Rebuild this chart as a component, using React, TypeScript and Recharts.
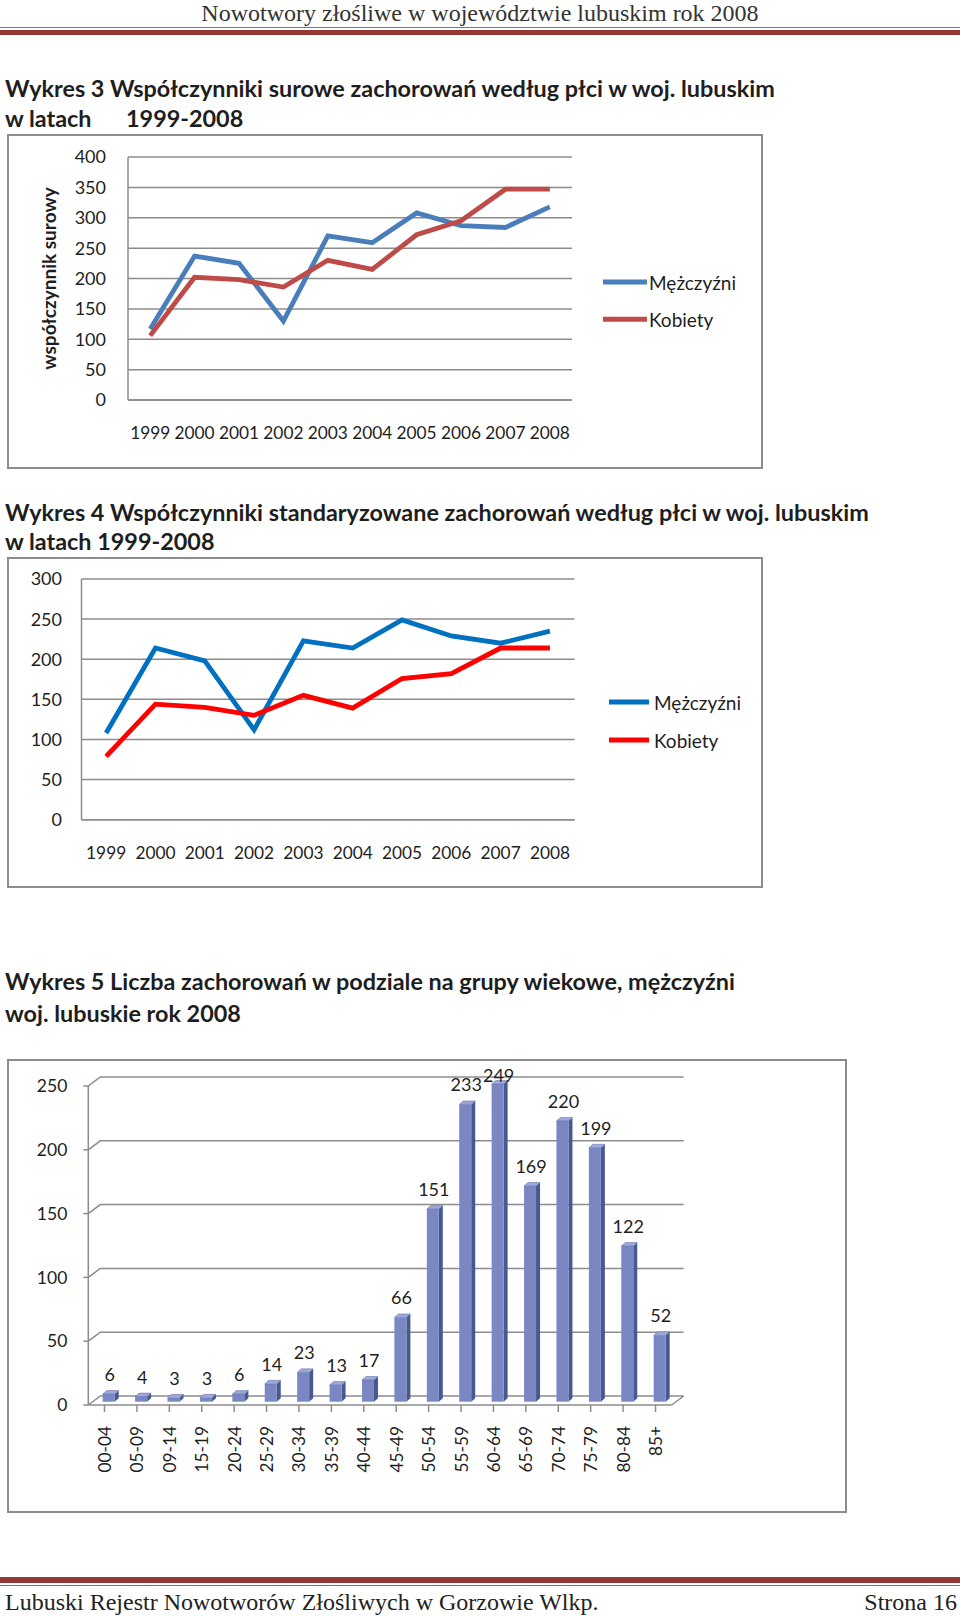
import React from 'react';
import { LineChart, Line, BarChart, Bar, XAxis, YAxis, CartesianGrid, Legend, LabelList } from 'recharts';

// ---- data ----
const YEARS = ['1999', '2000', '2001', '2002', '2003', '2004', '2005', '2006', '2007', '2008'];
const CRUDE_MEN = [117, 237, 225, 130, 270, 259, 308, 287, 284, 318];
const CRUDE_WOMEN = [106, 202, 198, 186, 230, 215, 272, 295, 347, 347];
const STD_MEN = [108, 214, 198, 112, 223, 214, 249, 229, 220, 235];
const STD_WOMEN = [79, 144, 140, 130, 155, 139, 176, 182, 214, 214];
const CRUDE_TICKS = [0, 50, 100, 150, 200, 250, 300, 350, 400];
const STD_TICKS = [0, 50, 100, 150, 200, 250, 300];

const AGE_GROUPS = ['00-04', '05-09', '09-14', '15-19', '20-24', '25-29', '30-34', '35-39', '40-44', '45-49', '50-54', '55-59', '60-64', '65-69', '70-74', '75-79', '80-84', '85+'];
const AGE_CASES = [6, 4, 3, 3, 6, 14, 23, 13, 17, 66, 151, 233, 249, 169, 220, 199, 122, 52];
const AGE_TICKS = [0, 50, 100, 150, 200, 250];

const SERIES_NAMES = ['Mężczyźni', 'Kobiety'];

const FONT = 'Lato, "Noto Sans", sans-serif';
const SERIF = '"Liberation Serif", "DejaVu Serif", serif';
const INK = '#1e1e1e';
const GRID = '#8c8c8c';
const RULE = '#943634';

const crudeData = YEARS.map((year, i) => ({ year, men: CRUDE_MEN[i], women: CRUDE_WOMEN[i] }));
const stdData = YEARS.map((year, i) => ({ year, men: STD_MEN[i], women: STD_WOMEN[i] }));
const ageData = AGE_GROUPS.map((group, i) => ({ group, cases: AGE_CASES[i] }));

interface TrendProps {
  left: number;
  top: number;
  width: number;
  height: number;
  data: { year: string; men: number; women: number }[];
  ticks: number[];
  colors: [string, string];
  margin: { top: number; right: number; bottom: number; left: number };
  pad: number;
  yGap: number;
  yFont: number;
  legend: { left: number; top: number; lineLen: number; textX: number; gap: number };
  yLabel?: string;
}

function TrendChart(p: TrendProps) {
  const renderLegend = () => (
    <svg width={170} height={90} style={{ overflow: 'visible' }}>
      {SERIES_NAMES.map((name, i) => {
        const y = 20 + i * p.legend.gap;
        return (
          <g key={name}>
            <line x1={0} x2={p.legend.lineLen} y1={y} y2={y} stroke={p.colors[i]} strokeWidth={5} />
            <text x={p.legend.textX} y={y} dominantBaseline="central" fontSize={19} fill={INK} fontFamily={FONT}>
              {name}
            </text>
          </g>
        );
      })}
    </svg>
  );

  const renderYLabel = (props: any) => {
    const vb = props.viewBox || {};
    const cx = vb.x - 20;
    const cy = vb.y + vb.height / 2;
    return (
      <text
        x={cx}
        y={cy}
        transform={`rotate(-90, ${cx}, ${cy})`}
        textAnchor="middle"
        dominantBaseline="central"
        fontSize={19}
        fontWeight={700}
        fill={INK}
        fontFamily={FONT}
      >
        {p.yLabel}
      </text>
    );
  };

  return (
    <div style={{ position: 'absolute', left: p.left, top: p.top }}>
      <LineChart width={p.width} height={p.height} data={p.data} margin={p.margin}>
        <CartesianGrid vertical={false} stroke={GRID} strokeWidth={1.5} />
        <XAxis
          dataKey="year"
          interval={0}
          padding={{ left: p.pad, right: p.pad }}
          tickLine={false}
          tickSize={0}
          tickMargin={27}
          axisLine={{ stroke: GRID, strokeWidth: 1.5 }}
          tick={{ fontSize: 17.3, fill: INK, fontFamily: FONT }}
          height={30}
        />
        <YAxis
          domain={[p.ticks[0], p.ticks[p.ticks.length - 1]]}
          ticks={p.ticks}
          interval={0}
          tickLine={false}
          tickSize={0}
          tickMargin={p.yGap}
          axisLine={{ stroke: GRID, strokeWidth: 1.5 }}
          tick={{ fontSize: p.yFont, fill: INK, fontFamily: FONT }}
          width={60}
          label={p.yLabel ? renderYLabel : undefined}
        />
        <Legend
          layout="vertical"
          align="center"
          verticalAlign="middle"
          content={renderLegend}
          wrapperStyle={{ left: p.legend.left, top: p.legend.top, width: 170, height: 90 }}
        />
        <Line type="linear" dataKey="men" name={SERIES_NAMES[0]} stroke={p.colors[0]} strokeWidth={4.8} dot={false} isAnimationActive={false} />
        <Line type="linear" dataKey="women" name={SERIES_NAMES[1]} stroke={p.colors[1]} strokeWidth={4.8} dot={false} isAnimationActive={false} />
      </LineChart>
    </div>
  );
}

// 3D look of the column chart
const DX = 12;
const DY = 9;
const SX = 4.4;
const SY = -3.3;
const BX = 4;
const BY = 3.5;

function wallLine(props: any) {
  const { x1, y1, x2, y, height } = props;
  const isFloor = Math.abs(y1 - (y + height)) < 1;
  let d = `M${x1},${y1} L${x1 + DX},${y1 - DY} L${x2 + DX},${y1 - DY}`;
  if (isFloor) d += ` M${x2},${y1} L${x2 + DX},${y1 - DY}`;
  return <path key={props.key} d={d} fill="none" stroke={GRID} strokeWidth={1.5} />;
}

function Column3D(props: any) {
  const { x, y, width, height } = props;
  if (!height || height <= 0) return null;
  const fx = x + SX;
  const fy = y + SY;
  return (
    <g>
      <polygon
        points={`${fx + width},${fy} ${fx + width + BX},${fy - BY} ${fx + width + BX},${fy + height - BY} ${fx + width},${fy + height}`}
        fill="#485892"
      />
      <rect x={fx} y={fy} width={width} height={height} fill="#7B87C3" />
      <polygon
        points={`${fx},${fy} ${fx + BX},${fy - BY} ${fx + width + BX},${fy - BY} ${fx + width},${fy}`}
        fill="#9EA8DA"
        stroke="#5a6aa5"
        strokeWidth={0.5}
      />
    </g>
  );
}

function AgeTick(props: any) {
  const { x, y, payload } = props;
  return (
    <text
      x={x}
      y={y}
      transform={`rotate(-90, ${x}, ${y})`}
      textAnchor="end"
      dominantBaseline="central"
      fontSize={17.3}
      fill={INK}
      fontFamily={FONT}
    >
      {payload.value}
    </text>
  );
}

const AGE_PLOT_TOP = 27;

function ValueLabel(props: any) {
  const vb = props.viewBox || props;
  const { x, y, width } = vb;
  const cx = x + SX + width / 2 + 1;
  const cy = Math.max(y + SY - 20, AGE_PLOT_TOP - 11);
  return (
    <text x={cx} y={cy} textAnchor="middle" dominantBaseline="central" fontSize={18} fill={INK} fontFamily={FONT}>
      {props.value}
    </text>
  );
}

function AgeChart() {
  return (
    <div style={{ position: 'absolute', left: 7, top: 1059 }}>
      <BarChart width={840} height={454} data={ageData} margin={{ top: AGE_PLOT_TOP, right: 175.3, left: 21.3, bottom: 18 }}>
        <CartesianGrid vertical={false} horizontal={wallLine} />
        <XAxis
          dataKey="group"
          interval={0}
          tickSize={7}
          tickMargin={14}
          tickLine={{ stroke: GRID, strokeWidth: 1.5 }}
          axisLine={{ stroke: GRID, strokeWidth: 1.5 }}
          tick={<AgeTick />}
          height={90}
        />
        <YAxis
          domain={[0, 250]}
          ticks={AGE_TICKS}
          interval={0}
          tickSize={5}
          tickMargin={16}
          tickLine={{ stroke: GRID, strokeWidth: 1.5 }}
          axisLine={{ stroke: GRID, strokeWidth: 1.5 }}
          tick={{ fontSize: 17.5, fill: INK, fontFamily: FONT }}
          width={60}
        />
        <Bar dataKey="cases" barSize={12} shape={<Column3D />} isAnimationActive={false}>
          <LabelList dataKey="cases" content={<ValueLabel />} />
        </Bar>
      </BarChart>
    </div>
  );
}

function Box({ left, top, width, height }: { left: number; top: number; width: number; height: number }) {
  return (
    <div
      style={{
        position: 'absolute',
        left,
        top,
        width,
        height,
        border: `2px solid ${GRID}`,
        boxSizing: 'border-box',
      }}
    />
  );
}

function Title({ top, children, left = 5 }: { top: number; children: React.ReactNode; left?: number }) {
  return (
    <div
      style={{
        position: 'absolute',
        left,
        top: top - 15,
        height: 30,
        lineHeight: '30px',
        fontFamily: FONT,
        fontWeight: 700,
        fontSize: 23.4,
        color: INK,
        whiteSpace: 'nowrap',
      }}
    >
      {children}
    </div>
  );
}

export default function App() {
  return (
    <div style={{ position: 'absolute', left: 0, top: 0, width: 960, height: 1616, background: '#fff', overflow: 'hidden' }}>
      {/* page header */}
      <div
        style={{
          position: 'absolute',
          left: 0,
          width: 960,
          top: 1,
          textAlign: 'center',
          fontFamily: SERIF,
          fontSize: 24,
          lineHeight: '24px',
          color: '#333',
        }}
      >
        Nowotwory złośliwe w województwie lubuskim rok 2008
      </div>
      <div style={{ position: 'absolute', left: 0, top: 27, width: 960, height: 1, background: '#b0605e' }} />
      <div style={{ position: 'absolute', left: 0, top: 30, width: 960, height: 5, background: RULE }} />

      <Title top={88}>Wykres 3 Współczynniki surowe zachorowań według płci w woj. lubuskim</Title>
      <Title top={118}>w latach</Title>
      <Title top={118} left={126}>1999-2008</Title>

      <Box left={7} top={134} width={756} height={335} />
      <TrendChart
        left={7}
        top={134}
        width={756}
        height={335}
        data={crudeData}
        ticks={CRUDE_TICKS}
        colors={['#4A7EBB', '#BE4B48']}
        margin={{ top: 23, right: 191, left: 61, bottom: 39 }}
        pad={22.2}
        yGap={22}
        yFont={18}
        legend={{ left: 596, top: 127.7, lineLen: 44, textX: 46, gap: 37.3 }}
        yLabel="współczynnik surowy"
      />

      <Title top={512}>Wykres 4 Współczynniki standaryzowane zachorowań według płci w woj. lubuskim</Title>
      <Title top={541}>w latach 1999-2008</Title>

      <Box left={7} top={557} width={756} height={331} />
      <TrendChart
        left={7}
        top={557}
        width={756}
        height={331}
        data={stdData}
        ticks={STD_TICKS}
        colors={['#0070C0', '#FF0000']}
        margin={{ top: 22, right: 188.4, left: 14.5, bottom: 38.3 }}
        pad={24.65}
        yGap={19.5}
        yFont={18}
        legend={{ left: 602, top: 125, lineLen: 40, textX: 45, gap: 38 }}
      />

      <Title top={981}>Wykres 5 Liczba zachorowań w podziale na grupy wiekowe, mężczyźni</Title>
      <Title top={1013}>woj. lubuskie rok 2008</Title>

      <Box left={7} top={1059} width={840} height={454} />
      <AgeChart />

      {/* page footer */}
      <div style={{ position: 'absolute', left: 0, top: 1577, width: 960, height: 6, background: RULE }} />
      <div style={{ position: 'absolute', left: 0, top: 1585, width: 960, height: 1, background: '#b0605e' }} />
      <div
        style={{
          position: 'absolute',
          left: 5,
          top: 1589,
          fontFamily: SERIF,
          fontSize: 24,
          lineHeight: '26px',
          color: '#222',
          whiteSpace: 'nowrap',
        }}
      >
        Lubuski Rejestr Nowotworów Złośliwych w Gorzowie Wlkp.
      </div>
      <div
        style={{
          position: 'absolute',
          right: 3,
          top: 1589,
          fontFamily: SERIF,
          fontSize: 24,
          lineHeight: '26px',
          color: '#222',
          whiteSpace: 'nowrap',
        }}
      >
        Strona 16
      </div>
    </div>
  );
}
